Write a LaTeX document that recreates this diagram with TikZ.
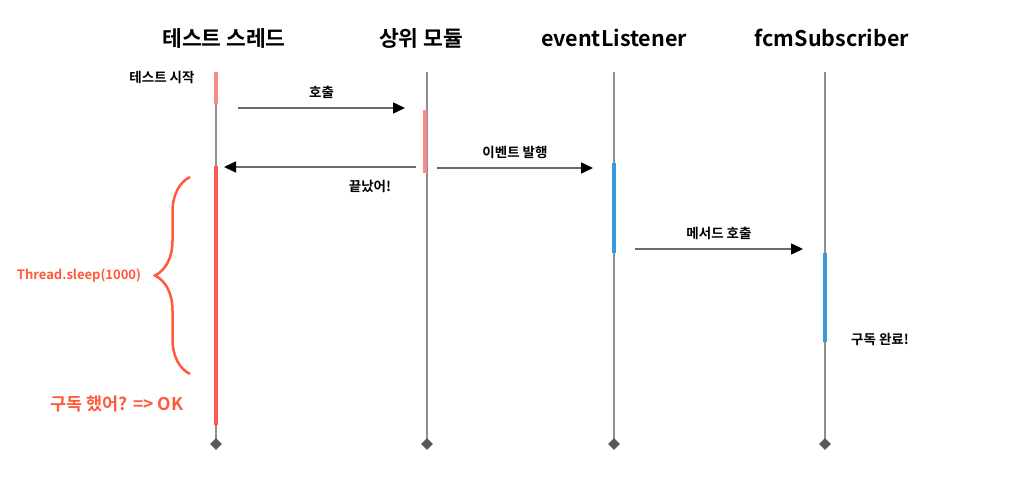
\documentclass[tikz,border=0pt]{standalone}
\usepackage{fontspec}
\setmainfont{Noto Sans CJK KR}[BoldFont={Noto Sans CJK KR Bold}]
\usetikzlibrary{arrows.meta,decorations.pathreplacing,shapes.geometric}
\definecolor{linie}{HTML}{8E8E8E}
\definecolor{pfeil}{HTML}{6A6A6A}
\definecolor{rot}{HTML}{FF5A50}
\definecolor{blass}{HTML}{F88A8A}
\definecolor{blau}{HTML}{3A9AD9}
\definecolor{klammer}{HTML}{FF5A3A}
\tikzset{
  kopf/.style={font=\bfseries\fontsize{21.5}{24}\selectfont},
  beschriftung/.style={font=\bfseries\fontsize{13.5}{16}\selectfont},
  lebenslinie/.style={draw=linie,line width=1.1pt},
  aktiv/.style={line width=4pt},
  nachricht/.style={draw=pfeil,line width=1.5pt,-{Triangle[length=12pt,width=11pt,color=black]}},
  ende/.style={diamond,fill=black!65,inner sep=0pt,minimum size=12pt}
}
\begin{document}
\begin{tikzpicture}[x=1pt,y=-1pt]
\useasboundingbox (0,0) rectangle (1013,489);
%Köpfe
	\node[kopf] (thread-kopf) at (224,38) {테스트 스레드};
	\node[kopf] (modul-kopf) at (421,38) {상위 모듈};
	\node[kopf] (listener-kopf) at (614,38) {eventListener};
	\node[kopf] (subscriber-kopf) at (832,38) {fcmSubscriber};
%Lebenslinien
	\foreach \x/\name in {216/thread,427/modul,614/listener,825/subscriber}{
		\coordinate (\name-oben) at (\x,72);
		\coordinate (\name-unten) at (\x,444);
		\draw[lebenslinie] (\name-oben) -- (\name-unten);
		\node[ende] (\name-ende) at (\name-unten) {};}
%Aktivierungen
	\draw[aktiv,blass] (216,72) -- (216,104);
	\draw[aktiv,rot] (216,166) -- (216,425);
	\draw[aktiv,blass] (425,110) -- (425,173);
	\draw[aktiv,blau] (614,163) -- (614,253);
	\draw[aktiv,blau] (825,253) -- (825,342);
%Nachrichten
	\coordinate (ruf-a) at (238,108);
	\coordinate (ruf-b) at (405,108);
	\draw[nachricht] (ruf-a) -- (ruf-b)
		node[midway,above=5pt,beschriftung] (ruf-text) {호출};
	\coordinate (fertig-a) at (416,167);
	\coordinate (fertig-b) at (224,167);
	\draw[nachricht] (fertig-a) -- (fertig-b);
	\node[beschriftung] (fertig-text) at (370,186) {끝났어!};
	\coordinate (event-a) at (437,168);
	\coordinate (event-b) at (593,168);
	\draw[nachricht] (event-a) -- (event-b)
		node[midway,above=5pt,beschriftung] (event-text) {이벤트 발행};
	\coordinate (methode-a) at (635,249);
	\coordinate (methode-b) at (803,249);
	\draw[nachricht] (methode-a) -- (methode-b)
		node[midway,above=5pt,beschriftung] (methode-text) {메서드 호출};
%Notizen
	\node[beschriftung] (start-text) at (162,77) {테스트 시작};
	\node[beschriftung] (fertig-sub) at (880,339) {구독 완료!};
%Klammer
	\coordinate (klammer-unten) at (190,374);
	\coordinate (klammer-oben) at (190,177);
	\draw[klammer,line width=2.5pt,decorate,
		decoration={brace,amplitude=35pt}] (klammer-unten) -- (klammer-oben);
	\node[text=klammer,font=\bfseries\fontsize{13}{15}\selectfont]
		(sleep-text) at (79,275) {Thread.sleep(1000)};
	\node[text=klammer,font=\bfseries\fontsize{17.5}{20}\selectfont]
		(ok-text) at (117,404) {구독 했어? => OK};
\end{tikzpicture}
\end{document}
